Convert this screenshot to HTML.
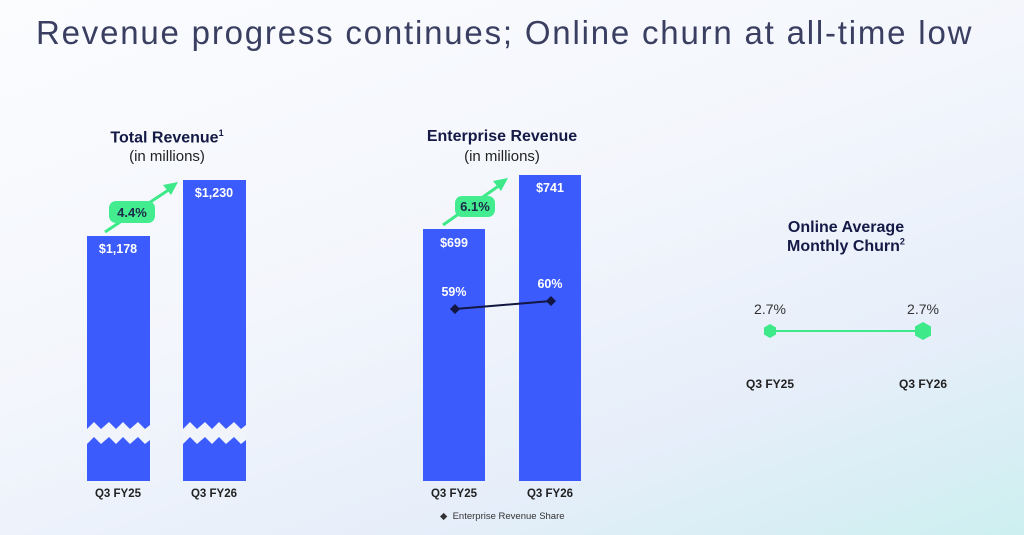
<!DOCTYPE html>
<html><head><style>
body{margin:0;width:1024px;height:535px;overflow:hidden;font-family:"Liberation Sans",sans-serif;background:linear-gradient(160deg,#fbfcfe 0%,#f3f6fc 45%,#e6eefa 75%,#cdeff0 100%);position:relative;color:#141a45}
.t{position:absolute;white-space:nowrap}
.c{text-align:center;transform:translateX(-50%)}
.bar{position:absolute;background:#3b5bfd}
.h{font-weight:bold;font-size:16px}
.s{font-size:15px;color:#222}
.v{color:#fff;font-size:12.5px;font-weight:bold}
.x{font-weight:bold;font-size:11.5px;color:#222}
</style></head><body>
<div class="t" style="left:36px;top:14px;font-size:33px;font-weight:300;color:#3a3f62;letter-spacing:1.8px">Revenue progress continues; Online churn at all-time low</div>

<div class="t c h" style="left:167px;top:128px">Total Revenue<sup style="font-size:9px">1</sup></div>
<div class="t c s" style="left:167px;top:148px">(in millions)</div>
<div class="bar" style="left:87px;top:236px;width:63px;height:245px"></div>
<div class="bar" style="left:183px;top:180px;width:63px;height:301px"></div>
<div class="t c v" style="left:118px;top:242px">$1,178</div>
<div class="t c v" style="left:214px;top:186px">$1,230</div>
<div class="t c x" style="left:118px;top:488px">Q3 FY25</div>
<div class="t c x" style="left:214px;top:488px">Q3 FY26</div>

<div class="t c h" style="left:502px;top:128px">Enterprise Revenue</div>
<div class="t c s" style="left:502px;top:148px">(in millions)</div>
<div class="bar" style="left:423px;top:229px;width:62px;height:252px"></div>
<div class="bar" style="left:519px;top:175px;width:62px;height:306px"></div>
<div class="t c v" style="left:454px;top:236px">$699</div>
<div class="t c v" style="left:550px;top:181px">$741</div>
<div class="t c v" style="left:454px;top:285px">59%</div>
<div class="t c v" style="left:550px;top:277px">60%</div>
<div class="t c x" style="left:454px;top:488px">Q3 FY25</div>
<div class="t c x" style="left:550px;top:488px">Q3 FY26</div>
<div class="t" style="left:440px;top:511px;font-size:9.5px;color:#333">◆&nbsp; Enterprise Revenue Share</div>

<div class="t c h" style="left:846px;top:218px;line-height:19px">Online Average<br>Monthly Churn<sup style="font-size:9px;line-height:0">2</sup></div>
<div class="t c" style="left:770px;top:301px;font-size:14px;color:#333">2.7%</div>
<div class="t c" style="left:923px;top:301px;font-size:14px;color:#333">2.7%</div>
<div class="t c x" style="left:770px;top:377px;font-size:12px">Q3 FY25</div>
<div class="t c x" style="left:923px;top:377px;font-size:12px">Q3 FY26</div>

<svg width="1024" height="535" style="position:absolute;left:0;top:0">
<g fill="#f1f4fb">
<path d="M87 429 L94 422 L101 429 L109 422 L116 429 L123 422 L130 429 L138 422 L145 429 L150 425 L150 440 L145 444 L138 437 L130 444 L123 437 L116 444 L109 437 L101 444 L94 437 L87 444Z"/>
<path d="M183 429 L190 422 L197 429 L205 422 L212 429 L219 422 L226 429 L234 422 L241 429 L246 425 L246 440 L241 444 L234 437 L226 444 L219 437 L212 444 L205 437 L197 444 L190 437 L183 444Z"/>
</g>
<g stroke="#3ee98a" stroke-width="3" fill="#3ee98a">
<line x1="105" y1="232" x2="170" y2="189"/><path d="M178 182 L163 185 L171 195Z" stroke="none"/>
<line x1="443" y1="225" x2="500" y2="185"/><path d="M508 178 L493 181 L501 191Z" stroke="none"/>
</g>
<rect x="109" y="201" width="46" height="22" rx="7" fill="#43ec8e"/>
<text x="132" y="217" text-anchor="middle" font-family="Liberation Sans" font-weight="bold" font-size="13" fill="#1c2a4a">4.4%</text>
<rect x="455" y="196" width="40" height="21" rx="7" fill="#43ec8e"/>
<text x="475" y="211" text-anchor="middle" font-family="Liberation Sans" font-weight="bold" font-size="13" fill="#1c2a4a">6.1%</text>
<line x1="455" y1="309" x2="551" y2="301" stroke="#121640" stroke-width="2"/>
<path d="M455 304 L460 309 L455 314 L450 309Z M551 296 L556 301 L551 306 L546 301Z" fill="#121640"/>
<line x1="770" y1="331" x2="923" y2="331" stroke="#3ee98a" stroke-width="2"/>
<path d="M770 324 L776 327.5 L776 334.5 L770 338 L764 334.5 L764 327.5Z" fill="#3ee98a"/>
<path d="M923 322 L931 326.5 L931 335.5 L923 340 L915 335.5 L915 326.5Z" fill="#3ee98a"/>
</svg>
</body></html>
